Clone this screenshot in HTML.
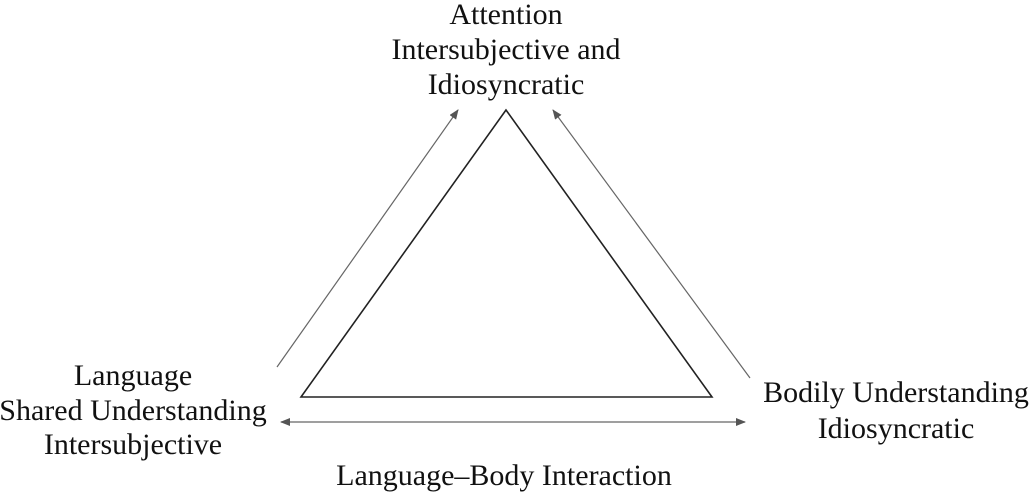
<!DOCTYPE html>
<html><head><meta charset="utf-8"><style>
html,body{margin:0;padding:0;background:#fff;}
body{width:1030px;height:492px;overflow:hidden;position:relative;}
svg{position:absolute;left:0;top:0;}
text{font-family:"Liberation Serif",serif;font-size:30px;fill:#111;text-anchor:middle;}
</style></head><body>
<svg width="1030" height="492" viewBox="0 0 1030 492">
<defs>
<marker id="a" markerWidth="10" markerHeight="8" refX="9" refY="4" orient="auto" markerUnits="userSpaceOnUse">
<path d="M0,0 L10,4 L0,8 z" fill="#555"/></marker>
<marker id="b" markerWidth="10" markerHeight="8" refX="1" refY="4" orient="auto" markerUnits="userSpaceOnUse">
<path d="M10,0 L0,4 L10,8 z" fill="#555"/></marker>
</defs>
<polygon points="506,110 301,397 712,397" fill="none" stroke="#222" stroke-width="1.6"/>
<line x1="277" y1="367" x2="458" y2="110" stroke="#666" stroke-width="1.2" marker-end="url(#a)"/>
<line x1="750" y1="378" x2="553" y2="110" stroke="#666" stroke-width="1.2" marker-end="url(#a)"/>
<line x1="281" y1="422" x2="745" y2="422" stroke="#666" stroke-width="1.2" marker-start="url(#b)" marker-end="url(#a)"/>
<text x="506" y="24">Attention</text>
<text x="506" y="59">Intersubjective and</text>
<text x="506" y="94">Idiosyncratic</text>
<text x="133" y="385">Language</text>
<text x="133" y="420">Shared Understanding</text>
<text x="133" y="454">Intersubjective</text>
<text x="896" y="402">Bodily Understanding</text>
<text x="896" y="438">Idiosyncratic</text>
<text x="504" y="485">Language–Body Interaction</text>
</svg>
</body></html>
